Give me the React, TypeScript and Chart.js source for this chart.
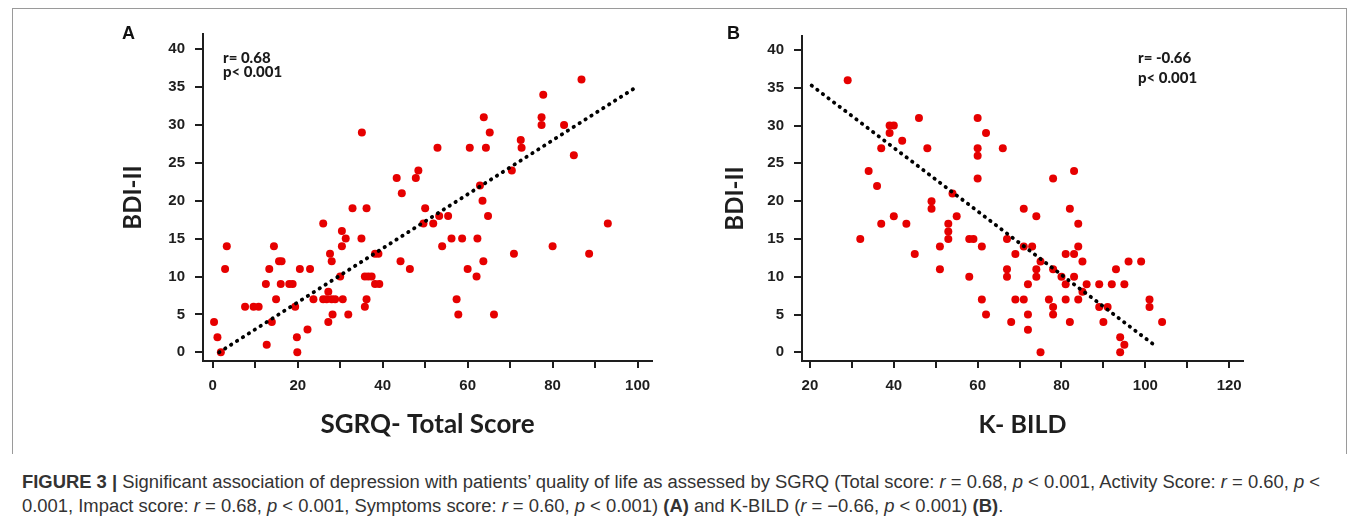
import React, { useEffect, useLayoutEffect, useRef } from 'react';
import { Chart, registerables } from 'chart.js';

Chart.register(...registerables);

// ---------- Panel A: SGRQ total score vs BDI-II ----------
const sgrqTotal = [
  0.3, 1.1, 1.9, 2.9, 3.3, 7.6, 9.6, 10.8, 12.5, 12.7, 13.3, 13.9, 14.4, 14.9, 15.6, 16.2, 16, 18, 18.8, 19.4,
  19.8, 19.9, 20.5, 22.3, 22.9, 23.7, 26, 26, 26.8, 27.2, 27.2, 27.6, 28, 28, 28.2, 28.8, 30, 30.4, 30.4, 30.6,
  31.3, 31.9, 32.9, 35, 35.8, 36.6, 37.4, 36.2, 36.2, 35.8, 38.2, 39, 38.2, 39.2, 44.5, 44.2, 46.4, 35.1, 43.3, 86.8,
  77.8, 77.4, 77.4, 82.7, 63.8, 65.2, 72.5, 72.7, 52.9, 60.5, 64.3, 85, 48.4, 47.8, 70.4, 62.9, 63.5, 50, 49.6, 51.9,
  53.3, 55.4, 64.8, 56.2, 58.7, 62.3, 54, 63.7, 70.9, 80, 88.6, 93, 60, 62.1, 57.4, 57.8, 66.2,
];
const bdiA = [
  4, 2, 0, 11, 14, 6, 6, 6, 9, 1, 11, 4, 14, 7, 12, 12, 9, 9, 9, 6,
  2, 0, 11, 3, 11, 7, 17, 7, 7, 8, 4, 13, 12, 7, 5, 7, 10, 16, 14, 7,
  15, 5, 19, 15, 10, 10, 10, 19, 7, 6, 13, 13, 9, 9, 21, 12, 11, 29, 23, 36,
  34, 31, 30, 30, 31, 29, 28, 27, 27, 27, 27, 26, 24, 23, 24, 22, 20, 19, 17, 17,
  18, 18, 18, 15, 15, 15, 14, 12, 13, 14, 13, 17, 11, 10, 7, 5, 5,
];
const fitAx = [1.5, 100];
const fitAy = [0, 35.1];

// ---------- Panel B: K-BILD vs BDI-II ----------
const kbild = [
  29, 46, 39, 40, 39, 42, 37, 48, 60, 62, 60, 60, 66, 60, 34, 36, 54, 49, 49, 55,
  37, 40, 43, 32, 45, 53, 53, 53, 51, 51, 58, 59, 61, 58, 61, 62, 67, 67, 67, 68,
  78, 83, 71, 82, 74, 84, 71, 73, 84, 69, 81, 83, 75, 85, 96, 99, 74, 74, 78, 80,
  93, 83, 72, 81, 86, 89, 92, 95, 85, 69, 71, 77, 81, 84, 101, 101, 78, 89, 91, 78,
  72, 82, 90, 104, 72, 94, 95, 94, 75,
];
const bdiB = [
  36, 31, 30, 30, 29, 28, 27, 27, 31, 29, 27, 26, 27, 23, 24, 22, 21, 20, 19, 18,
  17, 18, 17, 15, 13, 17, 16, 15, 14, 11, 15, 15, 14, 10, 7, 5, 15, 11, 10, 4,
  23, 24, 19, 19, 18, 17, 14, 14, 14, 13, 13, 13, 12, 12, 12, 12, 11, 10, 11, 10,
  11, 10, 9, 9, 9, 9, 9, 9, 8, 7, 7, 7, 7, 7, 7, 6, 6, 6, 6, 5,
  5, 4, 4, 4, 3, 2, 1, 0, 0,
];
const fitBx = [20.4, 101.8];
const fitBy = [35.3, 1.1];

// ---------- Axes ----------
const yTicks = [0, 5, 10, 15, 20, 25, 30, 35, 40];
const xTicksA = [0, 10, 20, 30, 40, 50, 60, 70, 80, 90, 100];
const xLabelsA = ['0', '', '20', '', '40', '', '60', '', '80', '', '100'];
const xTicksB = [20, 30, 40, 50, 60, 70, 80, 90, 100, 110, 120];
const xLabelsB = ['20', '', '40', '', '60', '', '80', '', '100', '', '120'];

const AXIS = '#1e1e1e';
const RED = '#e60000';

type PanelProps = {
  left: number; top: number; width: number; height: number;
  xs: number[]; ys: number[]; fitX: number[]; fitY: number[];
  xMin: number; xMax: number; yMin: number; yMax: number;
  xTicks: number[]; xLabels: string[]; xTitle: string; xTitleSize: number;
  padTop: number; padRight: number; yAxisWidth: number; xAxisHeight: number; yTitlePad: number;
};

function Panel(p: PanelProps) {
  const ref = useRef<HTMLCanvasElement>(null);
  useEffect(() => {
    const chart = new Chart(ref.current as HTMLCanvasElement, {
      type: 'scatter',
      data: {
        datasets: [
          {
            type: 'line',
            data: p.fitX.map((x, i) => ({ x, y: p.fitY[i] })),
            borderColor: '#000',
            borderWidth: 3.8,
            borderDash: [0.4, 6.6],
            borderCapStyle: 'round',
            pointRadius: 0,
            fill: false,
            showLine: true,
            order: 0,
          } as any,
          {
            data: p.xs.map((x, i) => ({ x, y: p.ys[i] })),
            backgroundColor: RED,
            borderColor: RED,
            borderWidth: 0,
            pointRadius: 4,
            order: 1,
          },
        ],
      },
      options: {
        animation: false,
        responsive: false,
        maintainAspectRatio: false,
        events: [],
        layout: { padding: { top: p.padTop, right: p.padRight, bottom: 0, left: 0 } },
        plugins: { legend: { display: false }, tooltip: { enabled: false } },
        scales: {
          x: {
            type: 'linear',
            min: p.xMin,
            max: p.xMax,
            afterBuildTicks: (s: any) => { s.ticks = p.xTicks.map((v) => ({ value: v })); },
            afterFit: (s: any) => { s.height = p.xAxisHeight; },
            grid: { display: true, drawOnChartArea: false, drawTicks: true, tickLength: 7, color: AXIS, lineWidth: 2 },
            border: { display: true, color: AXIS, width: 2 },
            ticks: {
              autoSkip: false, maxRotation: 0, padding: 9, color: AXIS,
              font: { family: 'Liberation Sans, Arial', weight: 'bold', size: 15 },
              callback: (v: any) => { const i = p.xTicks.indexOf(Number(v)); return i >= 0 ? p.xLabels[i] : ''; },
            },
            title: {
              display: true, text: p.xTitle, color: AXIS, padding: 0,
              font: { family: 'Lato', weight: 'bold', size: p.xTitleSize },
            },
          },
          y: {
            type: 'linear',
            min: p.yMin,
            max: p.yMax,
            afterBuildTicks: (s: any) => { s.ticks = yTicks.map((v) => ({ value: v })); },
            afterFit: (s: any) => { s.width = p.yAxisWidth; },
            grid: { display: true, drawOnChartArea: false, drawTicks: true, tickLength: 8, color: AXIS, lineWidth: 2 },
            border: { display: true, color: AXIS, width: 2 },
            ticks: {
              autoSkip: false, padding: 10, color: AXIS,
              font: { family: 'Liberation Sans, Arial', weight: 'bold', size: 15 },
            },
            title: {
              display: true, text: 'BDI-II', color: AXIS, padding: { top: p.yTitlePad, bottom: 0 },
              font: { family: 'Lato', weight: 'bold', size: 24 },
            },
          },
        },
      } as any,
    });
    return () => chart.destroy();
  }, []);
  return (
    <canvas
      ref={ref}
      width={p.width}
      height={p.height}
      style={{ position: 'absolute', left: p.left, top: p.top, width: p.width, height: p.height }}
    />
  );
}

const abs = (left: number, top: number, extra: React.CSSProperties = {}): React.CSSProperties => ({
  position: 'absolute', left, top, whiteSpace: 'nowrap', ...extra,
});

const statFont: React.CSSProperties = { fontFamily: 'Lato', fontWeight: 900, fontSize: 15, lineHeight: '14px', color: '#1a1a1a' };
const labelFont: React.CSSProperties = { fontFamily: 'Liberation Sans, Arial', fontWeight: 'bold', fontSize: 18, lineHeight: '18px', color: '#111' };

function Caption() {
  const l1 = useRef<HTMLDivElement>(null);
  const l2 = useRef<HTMLDivElement>(null);
  useLayoutEffect(() => {
    if (!l1.current || !l2.current) return;
    const w = l1.current.scrollWidth;
    const s = 1298 / w;
    l1.current.style.transform = `scaleX(${s})`;
    l2.current.style.transform = `scaleX(${s})`;
  }, []);
  const capStyle: React.CSSProperties = {
    fontFamily: '"Liberation Sans Narrow", "Liberation Sans", Arial, sans-serif',
    fontSize: 18, lineHeight: '20px', color: '#333', transformOrigin: '0 0',
  };
  return (
    <>
      <div ref={l1} style={abs(22, 472, capStyle)}>
        <b>FIGURE 3 |</b> Significant association of depression with patients’ quality of life as assessed by SGRQ (Total score: <i>r</i> = 0.68, <i>p</i> &lt; 0.001, Activity Score: <i>r</i> = 0.60, <i>p</i> &lt;
      </div>
      <div ref={l2} style={abs(22, 496, capStyle)}>
        0.001, Impact score: <i>r</i> = 0.68, <i>p</i> &lt; 0.001, Symptoms score: <i>r</i> = 0.60, <i>p</i> &lt; 0.001) <b>(A)</b> and K-BILD (<i>r</i> = −0.66, <i>p</i> &lt; 0.001) <b>(B)</b>.
      </div>
    </>
  );
}

export default function App() {
  return (
    <div style={{ position: 'absolute', left: 0, top: 0, width: 1358, height: 522, background: '#fff', overflow: 'hidden' }}>
      <div style={{ position: 'absolute', left: 12, top: 8, width: 1333, height: 445, borderLeft: '1px solid #9a9a9a', borderTop: '1px solid #9a9a9a', borderRight: '1px solid #9a9a9a' }} />
      <Panel
        left={90} top={15} width={580} height={425}
        xs={sgrqTotal} ys={bdiA} fitX={fitAx} fitY={fitAy}
        xMin={-2.3} xMax={103.4} yMin={-1.15} yMax={42}
        xTicks={xTicksA} xLabels={xLabelsA} xTitle="SGRQ- Total Score" xTitleSize={26}
        padTop={18} padRight={18} yAxisWidth={113} xAxisHeight={79} yTitlePad={28.6}
      />
      <Panel
        left={690} top={15} width={570} height={425}
        xs={kbild} ys={bdiB} fitX={fitBx} fitY={fitBy}
        xMin={18.1} xMax={123.3} yMin={-1.15} yMax={41.85}
        xTicks={xTicksB} xLabels={xLabelsB} xTitle="K- BILD" xTitleSize={25}
        padTop={21} padRight={17} yAxisWidth={112} xAxisHeight={79} yTitlePad={30.6}
      />
      <div style={abs(122, 24, labelFont)}>A</div>
      <div style={abs(727, 24, labelFont)}>B</div>
      <div style={abs(223, 50, statFont)}>r= 0.68</div>
      <div style={abs(223, 64, statFont)}>p&lt; 0.001</div>
      <div style={abs(1138, 50, statFont)}>r= -0.66</div>
      <div style={abs(1138, 70, statFont)}>p&lt; 0.001</div>
      <Caption />
    </div>
  );
}
